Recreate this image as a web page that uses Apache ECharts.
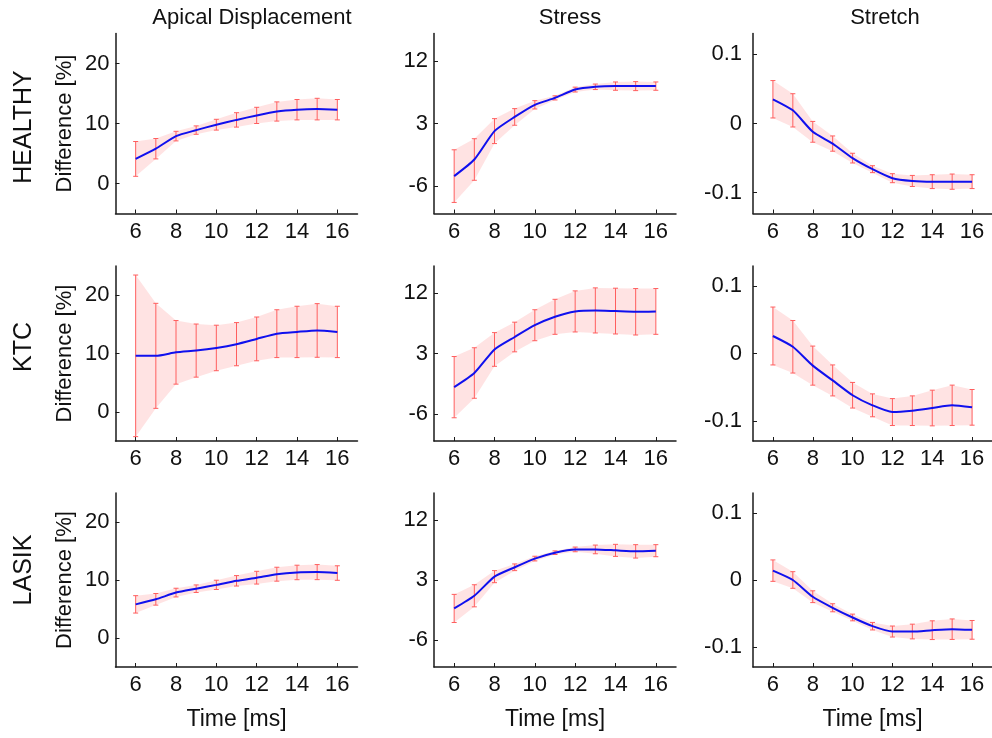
<!DOCTYPE html>
<html>
<head>
<meta charset="utf-8">
<script src="https://cdn.jsdelivr.net/npm/echarts@6/dist/echarts.min.js"></script>
<style>
  html, body { margin: 0; padding: 0; background: #fff; }
  #chart { width: 992px; height: 738px; }
</style>
</head>
<body>
<div id="chart"></div>
<script>
// time points (ms)
const times = [6, 7, 8, 9, 10, 11, 12, 13, 14, 15, 16];

const healthyDispMean = [4.1, 5.8, 7.9, 8.9, 9.8, 10.6, 11.35, 12.0, 12.3, 12.4, 12.3];
const healthyDispSd = [2.9, 1.7, 0.8, 0.7, 0.9, 1.2, 1.35, 1.6, 1.7, 1.8, 1.7];
const healthyStressMean = [-4.6, -2.2, 1.9, 3.95, 5.7, 6.7, 7.9, 8.3, 8.4, 8.4, 8.4];
const healthyStressSd = [3.8, 3.0, 1.8, 1.2, 0.6, 0.3, 0.35, 0.4, 0.6, 0.65, 0.6];
const healthyStretchMean = [0.035, 0.019, -0.012, -0.029, -0.05, -0.066, -0.079, -0.083, -0.084, -0.084, -0.084];
const healthyStretchSd = [0.027, 0.024, 0.015, 0.011, 0.007, 0.005, 0.0065, 0.008, 0.01, 0.011, 0.01];

const ktcDispMean = [9.6, 9.6, 10.2, 10.5, 10.95, 11.6, 12.5, 13.4, 13.7, 13.95, 13.7];
const ktcDispSd = [13.85, 9.0, 5.45, 4.55, 3.9, 3.7, 3.75, 4.1, 4.4, 4.6, 4.4];
const ktcStressMean = [-2.0, 0.1, 3.6, 5.45, 7.2, 8.45, 9.25, 9.4, 9.3, 9.2, 9.25];
const ktcStressSd = [4.55, 3.75, 2.5, 2.2, 2.3, 2.6, 3.05, 3.35, 3.4, 3.45, 3.4];
const ktcStretchMean = [0.026, 0.010, -0.018, -0.040, -0.062, -0.077, -0.087, -0.085, -0.081, -0.077, -0.080];
const ktcStretchSd = [0.043, 0.039, 0.029, 0.023, 0.019, 0.017, 0.020, 0.022, 0.0265, 0.030, 0.0265];

const lasikDispMean = [5.8, 6.67, 7.83, 8.5, 9.16, 9.86, 10.4, 11.0, 11.3, 11.36, 11.2];
const lasikDispSd = [1.5, 1.0, 0.75, 0.65, 0.8, 0.9, 1.1, 1.2, 1.25, 1.3, 1.25];
const lasikStressMean = [-1.25, 0.64, 3.5, 4.9, 6.2, 7.08, 7.57, 7.57, 7.43, 7.28, 7.38];
const lasikStressSd = [2.1, 1.65, 0.9, 0.5, 0.35, 0.27, 0.35, 0.65, 0.9, 1.0, 0.9];
const lasikStretchMean = [0.014, 0.0, -0.025, -0.0415, -0.056, -0.069, -0.077, -0.077, -0.075, -0.0735, -0.0745];
const lasikStretchSd = [0.016, 0.0124, 0.0088, 0.006, 0.005, 0.0056, 0.0082, 0.011, 0.014, 0.0153, 0.014];

const columnTitles = ["Apical Displacement", "Stress", "Stretch"];
const rowLabels = ["HEALTHY", "KTC", "LASIK"];
const xTicks = [6, 8, 10, 12, 14, 16];
const dispTicks = [0, 10, 20];
const stressTicks = [-6, 3, 12];
const stretchTicks = [-0.1, 0, 0.1];

const panels = [
  [healthyDispMean, healthyDispSd], [healthyStressMean, healthyStressSd], [healthyStretchMean, healthyStretchSd],
  [ktcDispMean, ktcDispSd], [ktcStressMean, ktcStressSd], [ktcStretchMean, ktcStretchSd],
  [lasikDispMean, lasikDispSd], [lasikStressMean, lasikStressSd], [lasikStretchMean, lasikStretchSd],
];

const colRanges = [
  { min: -5, max: 25, ticks: dispTicks },
  { min: -10, max: 16, ticks: stressTicks },
  { min: -0.13, max: 0.13, ticks: stretchTicks },
];

const FONT = "'Liberation Sans', Arial, Helvetica, sans-serif";
const gridLefts = [115.5, 434, 753];
const gridWidth = 242;
const rowTops = [33.5, 266, 493];
const rowHeights = [180, 175, 174];

const chart = echarts.init(document.getElementById("chart"));

const grids = [];
const xAxes = [];
const yAxes = [];
const series = [];

for (let r = 0; r < 3; r++) {
  for (let c = 0; c < 3; c++) {
    const idx = r * 3 + c;
    const range = colRanges[c];
    grids.push({
      left: gridLefts[c],
      top: rowTops[r],
      width: gridWidth,
      height: rowHeights[r],
    });
    xAxes.push({
      gridIndex: idx,
      type: "value",
      min: 5,
      max: 17,
      splitLine: { show: false },
      axisLine: { onZero: false, lineStyle: { color: "#1a1a1a", width: 1.5 } },
      axisTick: { inside: true, length: 4, customValues: xTicks, lineStyle: { color: "#1a1a1a" } },
      axisLabel: { customValues: xTicks, color: "#111", fontSize: 22, fontFamily: FONT, margin: 7 },
      name: r === 2 ? "Time [ms]" : "",
      nameLocation: "middle",
      nameGap: 41,
      nameTextStyle: { color: "#111", fontSize: 23, fontFamily: FONT },
    });
    yAxes.push({
      gridIndex: idx,
      type: "value",
      min: range.min,
      max: range.max,
      splitLine: { show: false },
      axisLine: { show: true, onZero: false, lineStyle: { color: "#1a1a1a", width: 1.5 } },
      axisTick: { show: true, inside: true, length: 4, customValues: range.ticks, lineStyle: { color: "#1a1a1a" } },
      axisLabel: { customValues: range.ticks, color: "#111", fontSize: 22, fontFamily: FONT, margin: c === 2 ? 11 : 6 },
      name: c === 0 ? "Difference [%]" : "",
      nameLocation: "middle",
      nameGap: 40,
      nameTextStyle: { color: "#111", fontSize: 22, fontFamily: FONT },
    });

    const mean = panels[idx][0];
    const sd = panels[idx][1];
    const bars = times.map((t, i) => [t, mean[i] - sd[i], mean[i] + sd[i]]);

    // shaded +/- sd band
    series.push({
      type: "custom",
      xAxisIndex: idx,
      yAxisIndex: idx,
      silent: true,
      z: 1,
      data: [[times[0], mean[0]]],
      renderItem: function (params, api) {
        const upper = bars.map(b => api.coord([b[0], b[2]]));
        const lower = bars.map(b => api.coord([b[0], b[1]])).reverse();
        return {
          type: "polygon",
          shape: { points: upper.concat(lower) },
          style: { fill: "rgba(255, 40, 40, 0.13)", stroke: null },
        };
      },
    });

    // error bars
    series.push({
      type: "custom",
      xAxisIndex: idx,
      yAxisIndex: idx,
      silent: true,
      z: 2,
      data: bars,
      renderItem: function (params, api) {
        const top = api.coord([api.value(0), api.value(2)]);
        const bot = api.coord([api.value(0), api.value(1)]);
        const w = 2.5;
        const st = { stroke: "#ff5e5e", lineWidth: 1 };
        return {
          type: "group",
          children: [
            { type: "line", shape: { x1: top[0], y1: top[1], x2: bot[0], y2: bot[1] }, style: st },
            { type: "line", shape: { x1: top[0] - w, y1: top[1], x2: top[0] + w, y2: top[1] }, style: st },
            { type: "line", shape: { x1: bot[0] - w, y1: bot[1], x2: bot[0] + w, y2: bot[1] }, style: st },
          ],
        };
      },
    });

    // mean curve
    series.push({
      type: "line",
      xAxisIndex: idx,
      yAxisIndex: idx,
      z: 3,
      symbol: "none",
      smooth: 0.2,
      silent: true,
      lineStyle: { color: "#1010ee", width: 2 },
      data: times.map((t, i) => [t, mean[i]]),
    });
  }
}

const graphics = [];
const titleCenters = [252, 570, 885];
columnTitles.forEach((t, i) => {
  graphics.push({
    type: "text",
    x: titleCenters[i],
    y: 18,
    style: { text: t, fill: "#111", font: "22px " + FONT, textAlign: "center", textVerticalAlign: "middle" },
  });
});
const rowCenters = [127, 347, 570];
rowLabels.forEach((t, i) => {
  graphics.push({
    type: "text",
    x: 24,
    y: rowCenters[i],
    rotation: Math.PI / 2,
    style: { text: t, fill: "#111", font: "25px " + FONT, textAlign: "center", textVerticalAlign: "middle" },
  });
});

chart.setOption({
  backgroundColor: "#fff",
  animation: false,
  grid: grids,
  xAxis: xAxes,
  yAxis: yAxes,
  series: series,
  graphic: graphics,
});
</script>
</body>
</html>
